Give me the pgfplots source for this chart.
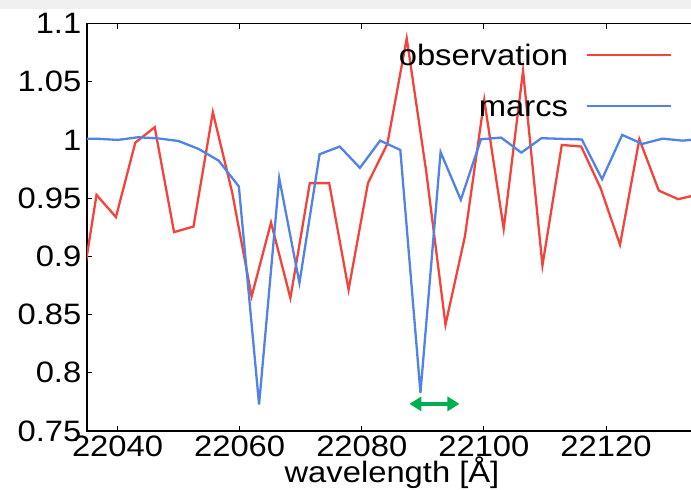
\documentclass[border=0pt]{standalone}
\usepackage{fontspec}
\setmainfont[FakeStretch=1.11]{Liberation Sans}
\usepackage{pgfplots}
\pgfplotsset{compat=1.18}
\usetikzlibrary{arrows.meta}
\definecolor{obsred}{RGB}{242,68,58}
\definecolor{marcsblue}{RGB}{80,130,232}
\definecolor{arrowgreen}{RGB}{0,176,80}
\definecolor{topgray}{RGB}{240,240,240}

\begin{document}
\fontsize{29.5bp}{35bp}\selectfont
\begin{tikzpicture}
\useasboundingbox (-87bp,-59bp) rectangle (604bp,431bp);
\clip (-87bp,-59bp) rectangle (604bp,431bp);
\fill[topgray] (-87bp,422bp) rectangle (604bp,431bp);
\begin{axis}[
    at={(0,0)}, anchor=south west,
    scale only axis,
    width=610bp, height=407.5bp,
    xmin=22035, xmax=22134.9,
    ymin=0.75, ymax=1.1,
    xtick={22040,22060,22080,22100,22120},
    ytick={0.75,0.8,0.85,0.9,0.95,1,1.05,1.1},
    scaled ticks=false,
    /pgf/number format/assume math mode=true,
    x tick label style={/pgf/number format/1000 sep={}},
    y tick label style={/pgf/number format/fixed, /pgf/number format/precision=2},
    xticklabel style={anchor=north, inner sep=0pt, yshift=-4.5bp},
    yticklabel style={anchor=east, inner sep=0pt, xshift=-5.5bp},
    tick align=inside,
    major tick length=5bp,
    tick style={black, line width=1bp},
    axis line style={black, line width=1.3bp},
    xlabel={wavelength [Å]},
    xlabel style={at={(axis description cs:0.5,0)}, anchor=base, inner sep=0pt, yshift=-51.5bp},
    legend plot pos=right,
    legend cell align=right,
    legend image code/.code={\draw[#1] (0bp,0bp) -- (84bp,0bp);},
    legend style={draw=none, fill=none, at={(0.960,0.949)}, anchor=north east,
        inner sep=0pt, column sep=18bp, row sep=29.7bp,
        nodes={inner sep=0pt, text height=21bp, text depth=0bp}},
]
\addplot[obsred, line width=2.3bp] coordinates {
    (22033.39,0.8480) (22036.56,0.9528) (22039.74,0.9337) (22042.91,0.9977)
    (22046.09,1.0109) (22049.26,0.9208) (22052.44,0.9256) (22055.61,1.0238)
    (22058.79,0.9545) (22061.96,0.8656) (22065.14,0.9291) (22068.31,0.8642)
    (22071.49,0.9629) (22074.66,0.9629) (22077.84,0.8714) (22081.01,0.9629)
    (22084.19,0.9966) (22087.36,1.0872) (22090.54,0.9734) (22093.71,0.8413)
    (22096.89,0.9171) (22100.06,1.0343) (22103.24,0.9237) (22106.41,1.0594)
    (22109.59,0.8922) (22112.76,0.9957) (22115.94,0.9943) (22119.11,0.9586)
    (22122.29,0.9100) (22125.46,1.0006) (22128.64,0.9565) (22131.81,0.9491)
    (22134.99,0.9530)
};
\addlegendentry{observation}
\addplot[marcsblue, line width=2.3bp] coordinates {
    (22033.44,1.0010) (22036.75,1.0010) (22040.05,1.0000) (22043.35,1.0023)
    (22046.66,1.0013) (22049.96,0.9991) (22053.27,0.9923) (22056.57,0.9822)
    (22059.87,0.9600) (22063.18,0.7727) (22066.48,0.9672) (22069.79,0.8771)
    (22073.09,0.9877) (22076.39,0.9943) (22079.70,0.9760) (22083.00,0.9994)
    (22086.31,0.9914) (22089.61,0.7828) (22092.91,0.9895) (22096.22,0.9485)
    (22099.52,1.0006) (22102.83,1.0020) (22106.13,0.9891) (22109.43,1.0015)
    (22112.74,1.0009) (22116.04,1.0004) (22119.35,0.9663) (22122.65,1.0043)
    (22125.95,0.9966) (22129.26,1.0011) (22132.56,0.9994) (22135.87,1.0010)
};
\addlegendentry{marcs}
\addplot[arrowgreen, line width=4bp, forget plot,
    {Triangle[length=12bp,width=14bp]}-{Triangle[length=12bp,width=14bp]}]
    coordinates {(22087.8,0.7733) (22096.0,0.7733)};
\end{axis}
\end{tikzpicture}
\end{document}
